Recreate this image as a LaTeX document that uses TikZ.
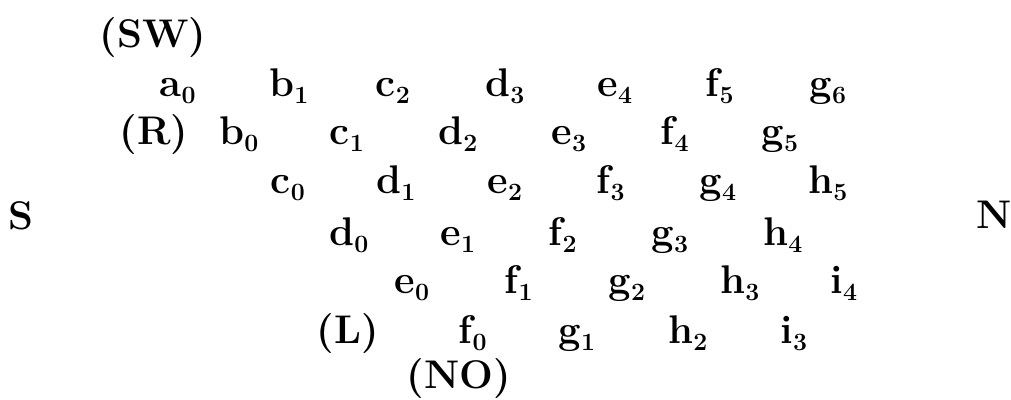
\documentclass[tikz,border=0pt]{standalone}
\usepackage{tikz}
\DeclareMathSizes{40}{40}{26}{18}
\tikzset{
  sym/.style={font=\fontsize{40}{44}\selectfont\bfseries, inner sep=0pt, anchor=base},
  pole/.style={sym},
}
\newcommand{\ltr}[2]{#1$_{\mathbf{#2}}$}

\begin{document}
\begin{tikzpicture}[x=1pt,y=-1pt]
  \useasboundingbox (0,0) rectangle (1011,399);
  % compass points and markers
  \node[pole] (south) at (21,229) {S};
  \node[pole] (north) at (994,228) {N};
  \node[sym] (sw) at (153,47) {(SW)};
  \node[sym] (r) at (154,144) {(R)};
  \node[sym] (l) at (348,343) {(L)};
  \node[sym] (no) at (459,388) {(NO)};
  % the grid of letters
  \foreach \x/\y/\l/\i in {178/96/a/0, 289/96/b/1, 393/96/c/2, 505/96/d/3, 615/96/e/4, 720/96/f/5, 828/96/g/6,
      239/144/b/0, 347/144/c/1, 458/144/d/2, 569/144/e/3, 675/144/f/4, 780/144/g/5,
      288/193/c/0, 396/193/d/1, 505/193/e/2, 611/193/f/3, 718/193/g/4, 828/193/h/5,
      349/245/d/0, 458/245/e/1, 563/245/f/2, 670/245/g/3, 783/245/h/4,
      412/293/e/0, 519/293/f/1, 627/293/g/2, 740/293/h/3, 844/293/i/4,
      473/343/f/0, 577/343/g/1, 688/343/h/2, 794/343/i/3}
    \node[sym] (\l\i) at (\x,\y) {\ltr{\l}{\i}};
\end{tikzpicture}
\end{document}
